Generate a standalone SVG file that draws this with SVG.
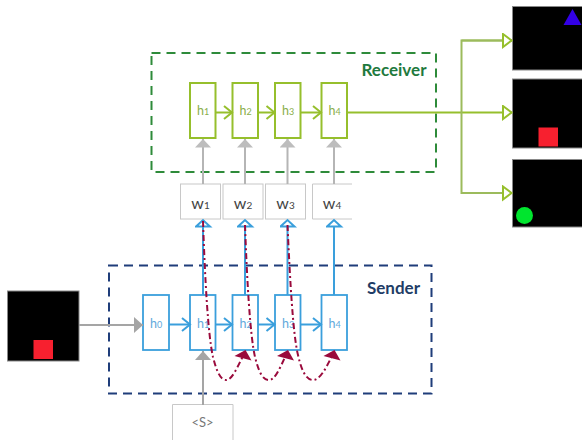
<svg xmlns="http://www.w3.org/2000/svg" width="582" height="440" viewBox="0 0 582 440">
<style>
text{font-family:Lato,"Open Sans",sans-serif;text-anchor:middle}
.lbl{font-size:12.500px}
.g{fill:#fff;stroke:#96bf2c;stroke-width:2}
.b{fill:#fff;stroke:#3a9fdc;stroke-width:1.8}
.gt{fill:#8aae4a}
.bt{fill:#62a9dc}
.w{fill:#fff;stroke:#c8c8c8;stroke-width:1}
.wt{fill:#444;font-size:16px}
.img{fill:#000;stroke:#888;stroke-width:1}
.gl{fill:none;stroke:#96bf2c;stroke-width:2}
.gl2{fill:none;stroke:#9cbb5c;stroke-width:2}
.bl{fill:none;stroke:#3a9fdc;stroke-width:2}
.gr{fill:none;stroke:#b5b5b5;stroke-width:2}
.gr2{fill:none;stroke:#a5a5a5;stroke-width:2}
.red{fill:none;stroke:#9a0a3c;stroke-width:2;stroke-dasharray:6 3 2 3}
</style>
<defs>
<marker id="ag" markerUnits="userSpaceOnUse" markerWidth="12" markerHeight="16" refX="10" refY="8" orient="auto"><path d="M2 1.500L10 8L2 14.500" fill="none" stroke="#96bf2c" stroke-width="2"/></marker>
<marker id="ab" markerUnits="userSpaceOnUse" markerWidth="12" markerHeight="16" refX="10" refY="8" orient="auto"><path d="M2 1.500L10 8L2 14.500" fill="none" stroke="#3a9fdc" stroke-width="2"/></marker>
<marker id="tg" markerUnits="userSpaceOnUse" markerWidth="12" markerHeight="18" refX="10.500" refY="8" orient="auto"><path d="M1.500 1.500L10 8L1.500 14.500Z" fill="#fff" stroke="#96bf2c" stroke-width="2"/></marker>
<marker id="tb" markerUnits="userSpaceOnUse" markerWidth="10" markerHeight="18" refX="8" refY="8" orient="auto"><path d="M1.500 1L8 8L1.500 15Z" fill="#fff" stroke="#3a9fdc" stroke-width="2"/></marker>
<marker id="tgr" markerUnits="userSpaceOnUse" markerWidth="10" markerHeight="18" refX="8.500" refY="8" orient="auto"><path d="M0 0L8.500 8L0 16Z" fill="#bdbdbd"/></marker>
<marker id="tgr2" markerUnits="userSpaceOnUse" markerWidth="10" markerHeight="18" refX="9" refY="8" orient="auto"><path d="M0 0L9 8L0 16Z" fill="#a5a5a5"/></marker>
<marker id="rh" markerUnits="userSpaceOnUse" markerWidth="20" markerHeight="20" refX="0" refY="0" viewBox="-10 -10 20 20" orient="0"><path d="M-8.500 0L2.500 -6L8.500 4.500Z" fill="#9a0a3c"/></marker>
</defs>

<g id="receiver">
<rect x="151.500" y="53" width="284.500" height="119" fill="none" stroke="#2e8b3a" stroke-width="2" stroke-dasharray="9 6"/>
<text x="394" y="76" font-size="17" font-weight="700" fill="#1f7a3e">Receiver</text>
</g>
<g id="sender">
<rect x="109" y="265.500" width="322.500" height="128" fill="none" stroke="#1f3d7a" stroke-width="2" stroke-dasharray="9 6"/>
<text x="393.500" y="293.500" font-size="17" font-weight="700" fill="#1f3d66">Sender</text>
</g>

<g id="r-h1"><rect class="g" x="190" y="83" width="25.500" height="55"/><text class="lbl gt" x="203" y="115">h<tspan font-size="9">1</tspan></text></g>
<g id="r-h2"><rect class="g" x="232.500" y="83" width="25.500" height="55"/><text class="lbl gt" x="245.500" y="115">h<tspan font-size="9">2</tspan></text></g>
<g id="r-h3"><rect class="g" x="275" y="83" width="25.500" height="55"/><text class="lbl gt" x="288" y="115">h<tspan font-size="9">3</tspan></text></g>
<g id="r-h4"><rect class="g" x="321.500" y="83" width="25.500" height="55"/><text class="lbl gt" x="334.500" y="115">h<tspan font-size="9">4</tspan></text></g>

<g id="w1"><rect class="w" x="180.500" y="184" width="40" height="35"/><text class="wt" x="200.500" y="209">w<tspan font-size="10">1</tspan></text></g>
<g id="w2"><rect class="w" x="223" y="184" width="40" height="35"/><text class="wt" x="243" y="209">w<tspan font-size="10">2</tspan></text></g>
<g id="w3"><rect class="w" x="265.500" y="184" width="40" height="35"/><text class="wt" x="285.500" y="209">w<tspan font-size="10">3</tspan></text></g>
<g id="w4"><path d="M352 184H312.500V219H352" fill="#fff" stroke="#c8c8c8"/><text class="wt" x="332" y="209">w<tspan font-size="10">4</tspan></text></g>

<g id="s-h0"><rect class="b" x="143" y="295" width="26" height="55"/><text class="lbl bt" x="156" y="327.500">h<tspan font-size="9">0</tspan></text></g>
<g id="s-h1"><rect class="b" x="190" y="295" width="25.500" height="55"/><text class="lbl bt" x="203" y="327.500">h<tspan font-size="9">1</tspan></text></g>
<g id="s-h2"><rect class="b" x="232.500" y="295" width="25.500" height="55"/><text class="lbl bt" x="245.500" y="327.500">h<tspan font-size="9">2</tspan></text></g>
<g id="s-h3"><rect class="b" x="275" y="295" width="25.500" height="55"/><text class="lbl bt" x="288" y="327.500">h<tspan font-size="9">3</tspan></text></g>
<g id="s-h4"><rect class="b" x="321.500" y="295" width="25.500" height="55"/><text class="lbl bt" x="334.500" y="327.500">h<tspan font-size="9">4</tspan></text></g>

<g id="start"><path d="M172.500 440V404.500H233V440" fill="#fff" stroke="#c8c8c8"/><text x="202.500" y="427" font-size="13" fill="#777">&lt;S&gt;</text></g>

<g id="input"><rect class="img" x="7.500" y="291" width="71.500" height="70"/><rect x="33.500" y="340" width="19.500" height="19" fill="#f7202f"/></g>
<g id="target1"><rect class="img" x="512.500" y="6.500" width="70" height="63.500"/><path d="M572.500 9L563.500 25H581.500Z" fill="#3300e6"/></g>
<g id="target2"><rect class="img" x="512.500" y="79" width="70" height="69"/><rect x="538.500" y="127.500" width="19.500" height="19" fill="#f7202f"/></g>
<g id="target3"><rect class="img" x="512.500" y="159.500" width="70" height="67.500"/><circle cx="524.500" cy="215.500" r="8.500" fill="#00e52e"/></g>

<g id="connectors">
<path class="gl" d="M215.500 112.500H232" marker-end="url(#ag)"/>
<path class="gl" d="M258 112.500H274.500" marker-end="url(#ag)"/>
<path class="gl" d="M300.500 112.500H321" marker-end="url(#ag)"/>
<path class="gl" d="M347 112.500H512" marker-end="url(#tg)"/>
<path class="gl2" d="M512 40.500H461.500V193H512" marker-end="url(#tg)"/>
<path class="gl2" d="M461.500 40.500H512" marker-end="url(#tg)"/>
<path class="gr" d="M203 184V139" marker-end="url(#tgr)"/>
<path class="gr" d="M245 184V139" marker-end="url(#tgr)"/>
<path class="gr" d="M287.500 184V139" marker-end="url(#tgr)"/>
<path class="gr" d="M334 184V139" marker-end="url(#tgr)"/>
<path class="bl" d="M203 295V220" marker-end="url(#tb)"/>
<path class="bl" d="M245 295V220" marker-end="url(#tb)"/>
<path class="bl" d="M287.500 295V220" marker-end="url(#tb)"/>
<path class="bl" d="M334 295V220" marker-end="url(#tb)"/>
<path class="bl" d="M169 324.500H190" marker-end="url(#ab)"/>
<path class="bl" d="M215.500 324.500H232" marker-end="url(#ab)"/>
<path class="bl" d="M258 324.500H274.500" marker-end="url(#ab)"/>
<path class="bl" d="M300.500 324.500H321" marker-end="url(#ab)"/>
<path class="gr2" d="M79 325H143" marker-end="url(#tgr2)"/>
<path class="gr2" d="M203 405V351" marker-end="url(#tgr2)"/>
<path class="red" d="M203 221C205 280 208 335 213 357C217 373 221 380 226 380C232 380 237 368 243 356" marker-end="url(#rh)"/>
<path class="red" d="M245 225C247 280 250 335 255 357C259 373 263 380 269 380C275 380 280 368 285.500 356" marker-end="url(#rh)"/>
<path class="red" d="M287.500 225C290 280 293 335 298 355C302 373 307 380 313 380C320 380 326 368 332 356" marker-end="url(#rh)"/>
</g>
</svg>
